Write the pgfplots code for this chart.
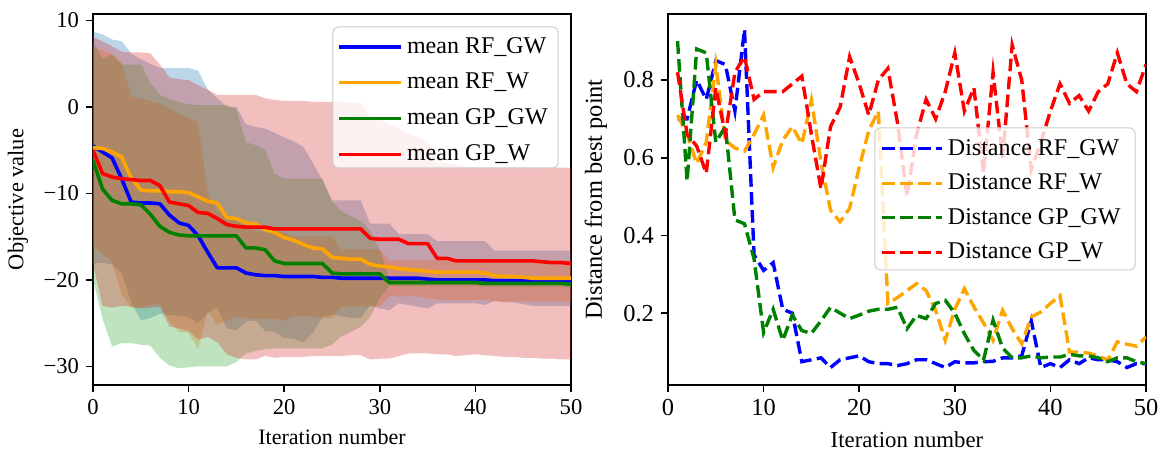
\documentclass[border=0pt]{standalone}
\usepackage{fontspec}
\setmainfont{Liberation Serif}
\usepackage{pgfplots}
\usepackage{pgfplotstable}
\pgfplotsset{compat=1.18}
\usepgfplotslibrary{fillbetween}

\definecolor{tabblue}{RGB}{31,119,180}
\definecolor{taborange}{RGB}{255,127,14}
\definecolor{tabgreen}{RGB}{44,160,44}
\definecolor{tabred}{RGB}{214,39,40}
\definecolor{mplorange}{RGB}{255,165,0}
\definecolor{mplgreen}{RGB}{0,128,0}

\pgfplotstableread{
x mb bu bl mo ou ol mg gu gl mr ru rl
0 -4.5 7.0 -16.0 -4.7 8.7 -18.1 -6.2 7.6 -20.0 -5.0 8.1 -18.1
1 -5.2 6.6 -17.0 -4.8 8.4 -18.0 -9.5 5.5 -24.5 -7.7 7.6 -23.0
2 -5.9 6.1 -17.9 -5.2 7.8 -18.2 -10.8 6.1 -27.7 -8.1 7.0 -23.2
3 -8.3 5.1 -21.7 -5.8 7.6 -19.2 -11.2 4.9 -27.3 -8.3 6.4 -23.0
4 -11.0 1.2 -23.2 -8.2 6.2 -22.6 -11.2 4.9 -27.3 -8.4 6.3 -23.1
5 -11.1 1.0 -23.2 -9.6 5.5 -24.7 -11.3 4.9 -27.5 -8.5 6.3 -23.3
6 -11.1 0.7 -22.9 -9.7 5.0 -24.4 -12.4 2.8 -27.6 -8.5 6.2 -23.2
7 -11.2 0.4 -22.8 -9.7 4.5 -23.9 -13.8 1.4 -29.0 -9.1 4.9 -23.1
8 -12.5 -0.2 -24.8 -9.8 4.5 -24.1 -14.5 0.9 -29.9 -11.0 3.4 -25.4
9 -13.4 -0.8 -26.0 -9.8 4.5 -24.1 -14.8 0.6 -30.2 -11.2 3.2 -25.6
10 -13.7 -1.3 -26.1 -9.9 4.5 -24.3 -14.9 0.3 -30.1 -11.4 3.1 -25.9
11 -14.9 -1.8 -28.0 -10.4 4.2 -25.0 -14.9 0.2 -30.0 -12.2 2.5 -26.9
12 -16.8 -10.0 -23.6 -10.9 2.0 -23.8 -14.9 0.2 -30.0 -12.3 2.0 -26.6
13 -18.6 -12.0 -25.2 -11.1 1.0 -23.2 -14.9 0.2 -30.0 -12.9 1.4 -27.2
14 -18.6 -12.5 -24.7 -12.8 0.0 -25.6 -14.9 0.2 -30.0 -13.6 1.4 -28.6
15 -18.6 -13.0 -24.2 -12.9 0.0 -25.8 -14.9 -0.3 -29.5 -13.8 1.4 -29.0
16 -19.2 -14.0 -24.4 -13.4 -2.0 -24.8 -16.3 -4.1 -28.5 -13.9 1.4 -29.2
17 -19.4 -14.3 -24.5 -13.5 -2.3 -24.7 -16.3 -4.4 -28.2 -13.9 1.4 -29.2
18 -19.5 -14.5 -24.5 -14.2 -2.5 -25.9 -16.5 -5.0 -28.0 -13.9 1.0 -28.8
19 -19.5 -14.5 -24.5 -14.5 -3.0 -26.0 -17.8 -7.7 -27.9 -14.1 0.8 -29.0
20 -19.6 -14.5 -24.7 -15.1 -3.5 -26.7 -18.1 -8.3 -27.9 -14.1 0.7 -28.9
21 -19.6 -15.0 -24.2 -15.4 -4.0 -26.8 -18.1 -8.3 -27.9 -14.1 0.7 -28.9
22 -19.6 -15.0 -24.2 -15.9 -4.6 -27.2 -18.1 -8.3 -27.9 -14.1 0.7 -28.9
23 -19.6 -15.0 -24.2 -16.3 -6.5 -26.1 -18.1 -8.3 -27.9 -14.1 0.6 -28.8
24 -19.7 -15.0 -24.4 -16.4 -8.5 -24.3 -18.1 -8.3 -27.9 -14.1 0.6 -28.8
25 -19.7 -15.0 -24.4 -17.4 -10.8 -24.0 -19.2 -10.9 -27.5 -14.1 0.6 -28.8
26 -19.8 -16.5 -23.1 -17.5 -10.8 -24.2 -19.3 -12.1 -26.5 -14.1 0.6 -28.8
27 -19.8 -16.5 -23.1 -17.6 -10.8 -24.4 -19.3 -12.6 -26.0 -14.1 0.5 -28.7
28 -19.8 -16.5 -23.1 -17.6 -10.8 -24.4 -19.3 -13.2 -25.4 -14.1 0.5 -28.7
29 -19.8 -16.5 -23.1 -18.2 -13.5 -22.9 -19.3 -14.3 -24.3 -15.2 -1.2 -29.2
30 -19.8 -16.5 -23.1 -18.4 -13.5 -23.3 -19.3 -16.5 -22.1 -15.3 -1.5 -29.1
31 -19.8 -17.7 -21.9 -18.5 -13.5 -23.5 -20.3 -19.9 -20.7 -15.3 -2.0 -29.1
32 -19.8 -17.7 -21.9 -18.7 -14.7 -22.7 -20.3 -19.9 -20.7 -15.3 -2.5 -28.8
33 -19.8 -17.7 -21.9 -18.8 -14.7 -22.9 -20.3 -19.9 -20.7 -15.8 -3.1 -28.5
34 -19.8 -17.7 -21.9 -18.9 -14.7 -23.1 -20.3 -19.9 -20.7 -15.8 -3.5 -28.5
35 -19.9 -17.7 -22.1 -19.0 -14.7 -23.3 -20.3 -19.9 -20.7 -15.8 -4.0 -28.5
36 -20.0 -17.7 -22.3 -19.1 -15.5 -22.7 -20.3 -19.9 -20.7 -17.5 -6.4 -28.6
37 -20.0 -17.7 -22.3 -19.1 -15.5 -22.7 -20.3 -19.9 -20.7 -17.5 -6.5 -28.6
38 -20.0 -17.7 -22.3 -19.1 -15.5 -22.7 -20.3 -19.9 -20.7 -17.8 -6.7 -28.8
39 -20.0 -17.7 -22.3 -19.1 -15.5 -22.7 -20.3 -19.9 -20.7 -17.8 -7.0 -28.7
40 -20.0 -17.7 -22.3 -19.1 -15.5 -22.7 -20.3 -19.9 -20.7 -17.8 -7.0 -28.6
41 -20.0 -17.7 -22.3 -19.2 -15.5 -22.9 -20.4 -20.0 -20.8 -17.8 -7.0 -28.7
42 -20.1 -17.7 -22.5 -19.5 -16.6 -22.4 -20.4 -20.0 -20.8 -17.8 -7.0 -28.8
43 -20.1 -17.7 -22.5 -19.6 -16.6 -22.6 -20.4 -20.0 -20.8 -17.8 -7.0 -28.9
44 -20.1 -17.7 -22.5 -19.6 -16.6 -22.6 -20.4 -20.0 -20.8 -17.8 -7.0 -28.9
45 -20.1 -17.7 -22.5 -19.7 -16.6 -22.8 -20.4 -20.0 -20.8 -17.8 -7.0 -29.0
46 -20.1 -17.7 -22.5 -19.8 -16.6 -23.0 -20.4 -20.0 -20.8 -17.8 -7.0 -29.0
47 -20.1 -17.7 -22.5 -19.8 -16.6 -23.0 -20.4 -20.0 -20.8 -17.9 -7.0 -29.1
48 -20.1 -17.7 -22.5 -19.8 -16.6 -23.0 -20.4 -20.0 -20.8 -18.0 -7.0 -29.1
49 -20.1 -17.7 -22.5 -19.8 -16.6 -23.0 -20.4 -20.0 -20.8 -18.0 -7.0 -29.2
50 -20.1 -17.7 -22.5 -19.8 -16.6 -23.0 -20.5 -20.1 -20.9 -18.1 -7.0 -29.2
}\tblL

\pgfplotstableread{
x b o g r
1 0.70 0.71 0.90 0.82
2 0.70 0.66 0.54 0.66
3 0.80 0.585 0.88 0.63
4 0.75 0.64 0.87 0.56
5 0.85 0.84 0.64 0.78
6 0.84 0.645 0.68 0.66
7 0.72 0.625 0.44 0.82
8 0.93 0.617 0.43 0.86
9 0.35 0.66 0.34 0.75
10 0.31 0.71 0.15 0.77
11 0.33 0.575 0.21 0.77
12 0.21 0.645 0.13 0.77
13 0.20 0.68 0.195 0.79
14 0.075 0.636 0.155 0.81
15 0.08 0.748 0.148 0.66
16 0.085 0.59 0.18 0.52
17 0.06 0.465 0.215 0.68
18 0.08 0.435 0.20 0.73
19 0.085 0.47 0.186 0.86
20 0.09 0.575 0.195 0.79
21 0.075 0.67 0.205 0.71
22 0.07 0.72 0.21 0.80
23 0.07 0.225 0.21 0.83
24 0.065 0.24 0.215 0.69
25 0.07 0.258 0.16 0.50
26 0.08 0.276 0.194 0.66
27 0.08 0.258 0.186 0.75
28 0.07 0.207 0.225 0.70
29 0.06 0.13 0.233 0.77
30 0.075 0.21 0.20 0.87
31 0.072 0.263 0.147 0.72
32 0.072 0.216 0.104 0.78
33 0.075 0.175 0.079 0.56
34 0.076 0.13 0.182 0.82
35 0.085 0.207 0.11 0.60
36 0.085 0.16 0.085 0.89
37 0.09 0.121 0.085 0.80
38 0.18 0.19 0.09 0.57
39 0.06 0.203 0.085 0.64
40 0.07 0.225 0.087 0.72
41 0.06 0.245 0.087 0.79
42 0.08 0.10 0.094 0.74
43 0.07 0.10 0.09 0.76
44 0.085 0.097 0.09 0.72
45 0.08 0.09 0.085 0.77
46 0.08 0.079 0.075 0.79
47 0.075 0.126 0.085 0.87
48 0.06 0.12 0.085 0.79
49 0.07 0.115 0.075 0.77
50 0.07 0.139 0.07 0.84
}\tblR

\pgfplotsset{
  mystyle/.style={
    scale only axis, width=239pt, height=185.5pt,
    xmin=0, xmax=50, xtick={0,10,20,30,40,50},
    tick align=outside, tick pos=left,
    major tick length=3.5pt,
    every tick/.style={black, line width=0.8pt},
    axis line style={line width=0.8pt},
    /pgf/number format/assume math mode=true,
    legend cell align=left,
  },
}

\begin{document}
\begin{tikzpicture}
\begin{axis}[mystyle,
  at={(0pt,0pt)}, anchor=south west,
  ymin=-32.15, ymax=10.75,
  ytick={-30,-20,-10,0,10},
  yticklabels={−30,−20,−10,0,10},
  tick label style={font=\fontsize{11.3}{13}\selectfont},
  xlabel={Iteration number},
  ylabel={Objective value},
  xlabel style={font=\fontsize{11}{13}\selectfont, at={(axis description cs:0.5,-0.14)}, anchor=center},
  ylabel style={font=\fontsize{11.2}{13}\selectfont, at={(axis description cs:-0.157,0.5)}, anchor=center},
  legend style={at={(0.973,0.965)}, anchor=north east, draw=none, fill=none,
    font=\fontsize{12}{13.5}\selectfont, inner xsep=3pt, inner ysep=3pt, row sep=4.5pt},
  legend image code/.code={\path (0pt,0pt) -- (31pt,0pt); \draw[#1] (0pt,0pt) -- (26pt,0pt);},
]
% bands
\addplot[name path=oU, draw=none, forget plot] table[x=x,y=ou]{\tblL};
\addplot[name path=oL, draw=none, forget plot] table[x=x,y=ol]{\tblL};
\addplot[fill=tabblue, fill opacity=0.3, draw=none, forget plot] fill between[of=oU and oL];
\addplot[name path=bU, draw=none, forget plot] table[x=x,y=bu]{\tblL};
\addplot[name path=bL, draw=none, forget plot] table[x=x,y=bl]{\tblL};
\addplot[fill=taborange, fill opacity=0.3, draw=none, forget plot] fill between[of=bU and bL];
\addplot[name path=gU, draw=none, forget plot] table[x=x,y=gu]{\tblL};
\addplot[name path=gL, draw=none, forget plot] table[x=x,y=gl]{\tblL};
\addplot[fill=tabgreen, fill opacity=0.3, draw=none, forget plot] fill between[of=gU and gL];
\addplot[name path=rU, draw=none, forget plot] table[x=x,y=ru]{\tblL};
\addplot[name path=rL, draw=none, forget plot] table[x=x,y=rl]{\tblL};
\addplot[fill=tabred, fill opacity=0.3, draw=none, forget plot] fill between[of=rU and rL];
% means
\addplot[blue, line width=1.8pt, line join=round] table[x=x,y=mb]{\tblL};
\addlegendentry{mean RF\_GW}
\addplot[mplorange, line width=1.8pt, line join=round] table[x=x,y=mo]{\tblL};
\addlegendentry{mean RF\_W}
\addplot[mplgreen, line width=1.8pt, line join=round] table[x=x,y=mg]{\tblL};
\addlegendentry{mean GP\_GW}
\addplot[red, line width=1.8pt, line join=round] table[x=x,y=mr]{\tblL};
\addlegendentry{mean GP\_W}
\draw[black!20, line width=0.5pt, fill=white, fill opacity=0.8, draw opacity=1, rounded corners=2.5pt]
  (axis description cs:0.502,0.585) rectangle (axis description cs:0.973,0.965);
\end{axis}

\begin{axis}[mystyle,
  at={(287.5pt,0pt)}, anchor=south west,
  ymin=0.015, ymax=0.97,
  ytick={0.2,0.4,0.6,0.8},
  tick label style={font=\fontsize{12.2}{14}\selectfont},
  xlabel={Iteration number},
  ylabel={Distance from best point},
  xlabel style={font=\fontsize{11.4}{13}\selectfont, at={(axis description cs:0.5,-0.148)}, anchor=center},
  ylabel style={font=\fontsize{12.2}{14}\selectfont, at={(axis description cs:-0.151,0.5)}, anchor=center},
  legend style={at={(0.977,0.693)}, anchor=north east, draw=none, fill=none,
    font=\fontsize{12}{13.5}\selectfont, inner xsep=5pt, inner ysep=3.5pt, row sep=3.8pt},
  legend image code/.code={\path (0pt,0pt) -- (30pt,0pt); \draw[#1] (0pt,0pt) -- (24pt,0pt);},
]
\addplot[blue, line width=1.7pt, dash pattern=on 6.3pt off 2.7pt] table[x=x,y=b]{\tblR};
\addlegendentry{Distance RF\_GW}
\addplot[mplorange, line width=1.7pt, dash pattern=on 6.3pt off 2.7pt] table[x=x,y=o]{\tblR};
\addlegendentry{Distance RF\_W}
\addplot[mplgreen, line width=1.7pt, dash pattern=on 6.3pt off 2.7pt] table[x=x,y=g]{\tblR};
\addlegendentry{Distance GP\_GW}
\addplot[red, line width=1.7pt, dash pattern=on 6.3pt off 2.7pt] table[x=x,y=r]{\tblR};
\addlegendentry{Distance GP\_W}
\draw[black!20, line width=0.5pt, fill=white, fill opacity=0.8, draw opacity=1, rounded corners=2.5pt]
  (axis description cs:0.433,0.310) rectangle (axis description cs:0.977,0.693);
\end{axis}
\pgfresetboundingbox
\useasboundingbox (-46.5pt,-36pt) rectangle (536.5pt,192.5pt);
\end{tikzpicture}
\end{document}
